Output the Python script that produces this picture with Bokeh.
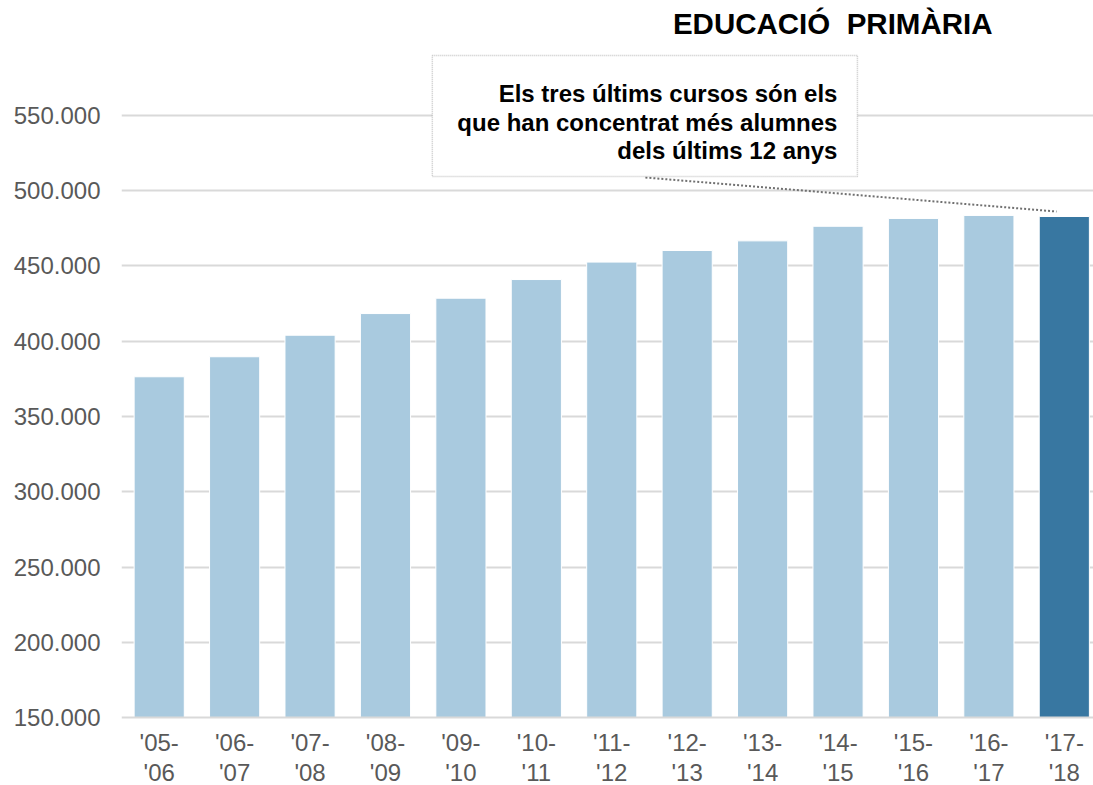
from bokeh.plotting import figure
from bokeh.models import (ColumnDataSource, Range1d, FixedTicker, Label, BoxAnnotation, Span)
from bokeh.core.properties import value
from bokeh.embed import file_html
from bokeh.resources import INLINE

# ---- data ----
courses = ["'05-\n'06", "'06-\n'07", "'07-\n'08", "'08-\n'09", "'09-\n'10", "'10-\n'11",
           "'11-\n'12", "'12-\n'13", "'13-\n'14", "'14-\n'15", "'15-\n'16", "'16-\n'17",
           "'17-\n'18"]
students = [376400, 389700, 404000, 418400, 428600, 441000, 452600, 460300, 466700,
            476400, 481600, 483600, 482900]
y_ticks = [150000, 200000, 250000, 300000, 350000, 400000, 450000, 500000, 550000]
y_tick_labels = ["150.000", "200.000", "250.000", "300.000", "350.000", "400.000",
                 "450.000", "500.000", "550.000"]
title_text = "EDUCACIÓ\u00a0 PRIMÀRIA"
note_lines = ["Els tres últims cursos són els", "que han concentrat més alumnes",
              "dels últims 12 anys"]

LIGHT = "#A9CADF"
DARK = "#3877A1"
FONT = "Liberation Sans"
BASE = 150000

idx = list(range(len(courses)))
colors = [LIGHT] * (len(courses) - 1) + [DARK]
src = ColumnDataSource(dict(x=idx, top=students, color=colors, label=courses))

p = figure(width=1093, height=785, output_backend="svg", toolbar_location=None,
           x_range=Range1d(-0.5, 12.387), y_range=Range1d(104820, 626410),
           min_border_left=121, min_border_right=0, min_border_top=0, min_border_bottom=0)
p.outline_line_color = None
p.background_fill_color = "white"
p.border_fill_color = "white"

p.vbar(x="x", top="top", bottom=BASE, width=0.665, fill_color="color",
       line_color="white", line_width=1, source=src)

# baseline (x axis line)
p.add_layout(Span(location=BASE, dimension="width", line_color="#D9D9D9", line_width=2))

# category labels below the baseline
p.text(x="x", y=123420, text="label", source=src, text_align="center",
       text_baseline="middle", text_font=value(FONT), text_font_size="24px",
       text_color="#595959", text_line_height=1.1)

# y axis
p.yaxis.ticker = FixedTicker(ticks=y_ticks)
p.yaxis.major_label_overrides = {t: l for t, l in zip(y_ticks, y_tick_labels)}
p.yaxis.axis_line_color = None
p.yaxis.major_tick_line_color = None
p.yaxis.minor_tick_line_color = None
p.yaxis.major_tick_out = 0
p.yaxis.major_tick_in = 0
p.yaxis.minor_tick_out = 0
p.yaxis.major_label_standoff = 21
p.yaxis.major_label_text_font = FONT
p.yaxis.major_label_text_font_size = "24px"
p.yaxis.major_label_text_color = "#595959"

p.xaxis.visible = False
p.xgrid.grid_line_color = None
p.ygrid.ticker = FixedTicker(ticks=y_ticks[1:])
p.ygrid.grid_line_color = "#D9D9D9"
p.ygrid.grid_line_width = 2

# title
p.add_layout(Label(x=11.048, y=610800, text=title_text, text_align="right",
                   text_baseline="middle", text_font=FONT, text_font_size="29.5px",
                   text_font_style="bold", text_color="black"))

# annotation box
p.add_layout(BoxAnnotation(left=3.621, right=9.257, bottom=509500, top=589900,
                           fill_color="white", fill_alpha=1.0, line_color="#4D4D4D",
                           line_width=1.5, line_dash="1 1", level="overlay"))
for line, yv in zip(note_lines, [564300, 545300, 526700]):
    p.add_layout(Label(x=8.992, y=yv, text=line, text_align="right",
                       text_baseline="alphabetic", text_font=FONT, text_font_size="24px",
                       text_font_style="bold", text_color="black", level="overlay"))

p.segment(x0=[6.446], y0=[508800], x1=[11.897], y1=[486200],
          line_color="#707070", line_width=2, line_dash="2 2")

open("out.html", "w").write(file_html(p, INLINE))
